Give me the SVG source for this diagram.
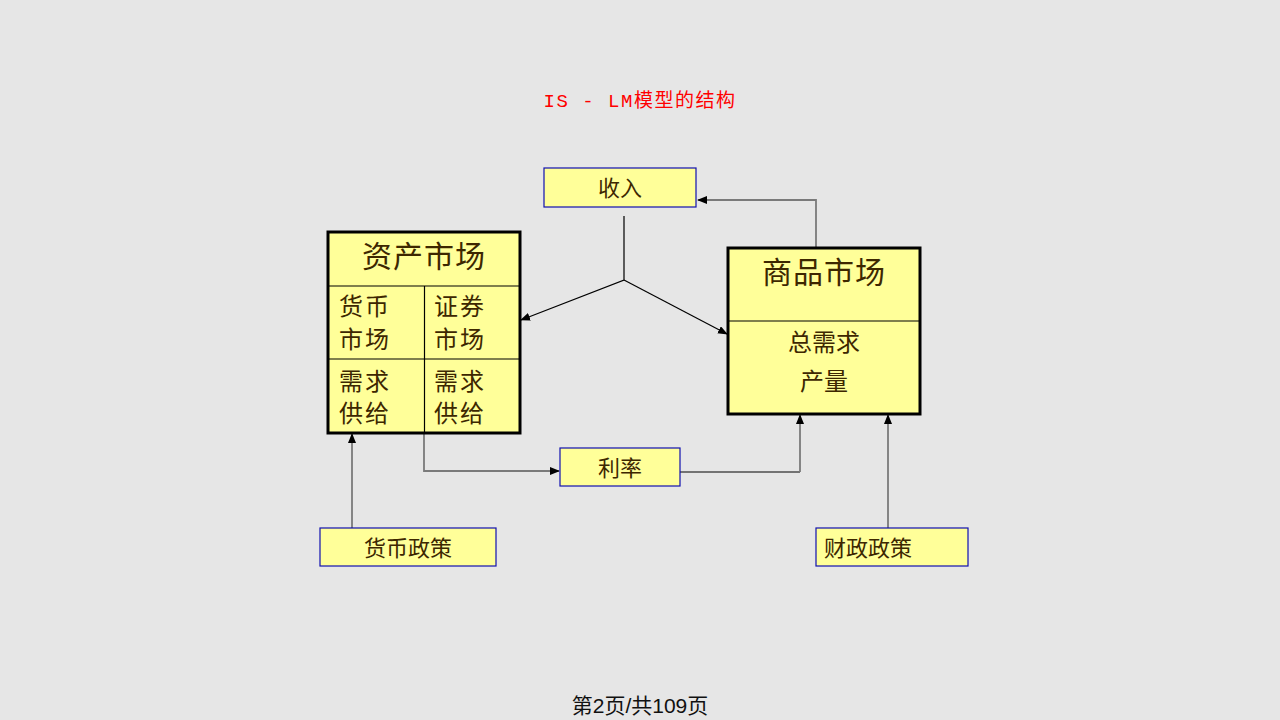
<svg xmlns="http://www.w3.org/2000/svg" width="1280" height="720" viewBox="0 0 1280 720">
<defs>
<marker id="ah" markerWidth="10" markerHeight="8" refX="9" refY="4" orient="auto" markerUnits="userSpaceOnUse"><path d="M0,0 L10,4 L0,8 Z" fill="#000"/></marker>
<style>
.sm{fill:#ffff99;stroke:#1010b0;stroke-width:1.2}
.big{fill:#ffff99;stroke:#000;stroke-width:3}
.div{stroke:#000;stroke-width:1.2;fill:none}
.t{font-family:"Noto Sans CJK SC","Liberation Sans",sans-serif;fill:#3d2700}
.c{stroke:#7a7a7a;stroke-width:1.8;fill:none}
.k{stroke:#000;stroke-width:1.2;fill:none}
</style>
</defs>
<rect width="1280" height="720" fill="#e6e6e6"/>
<text x="640" y="107" text-anchor="middle" font-family="'Liberation Mono','Noto Sans CJK SC',monospace" font-size="19" letter-spacing="1.5" fill="#ff0000">IS - LM模型的结构</text>

<g id="connectors">
<path class="c" d="M816,248 V200 H698" marker-end="url(#ah)"/>
<path class="k" d="M624,216 V280 L521,320" marker-end="url(#ah)"/>
<path class="k" d="M624,280 L727,334" marker-end="url(#ah)"/>
<path class="c" d="M424,433 V471 H559" marker-end="url(#ah)"/>
<path class="k" d="M680,472 H800"/>
<path class="c" d="M800,472 V415" marker-end="url(#ah)"/>
<path class="c" d="M352,528 V434" marker-end="url(#ah)"/>
<path class="c" d="M888,528 V415" marker-end="url(#ah)"/>
</g>

<g id="income">
<rect class="sm" x="544" y="168" width="152" height="39"/>
<text class="t" x="620" y="196" text-anchor="middle" font-size="22">收入</text>
</g>

<g id="asset-market">
<rect class="big" x="328" y="232" width="192" height="201"/>
<line class="div" x1="328" y1="286" x2="520" y2="286"/>
<line class="div" x1="328" y1="359" x2="520" y2="359"/>
<line class="div" x1="424.5" y1="286" x2="424.5" y2="433"/>
<text class="t" x="424" y="267" text-anchor="middle" font-size="30" letter-spacing="1">资产市场</text>
<text class="t" x="339" y="315" font-size="24" letter-spacing="2">货币</text>
<text class="t" x="339" y="348" font-size="24" letter-spacing="2">市场</text>
<text class="t" x="434" y="315" font-size="24" letter-spacing="2">证券</text>
<text class="t" x="434" y="348" font-size="24" letter-spacing="2">市场</text>
<text class="t" x="339" y="390" font-size="24" letter-spacing="2">需求</text>
<text class="t" x="339" y="422" font-size="24" letter-spacing="2">供给</text>
<text class="t" x="434" y="390" font-size="24" letter-spacing="2">需求</text>
<text class="t" x="434" y="422" font-size="24" letter-spacing="2">供给</text>
</g>

<g id="goods-market">
<rect class="big" x="728" y="248" width="192" height="166"/>
<line class="div" x1="728" y1="321" x2="920" y2="321"/>
<text class="t" x="824" y="283" text-anchor="middle" font-size="30" letter-spacing="1">商品市场</text>
<text class="t" x="824" y="351" text-anchor="middle" font-size="24">总需求</text>
<text class="t" x="824" y="390" text-anchor="middle" font-size="24">产量</text>
</g>

<g id="interest">
<rect class="sm" x="560" y="448" width="120" height="38"/>
<text class="t" x="620" y="476" text-anchor="middle" font-size="22">利率</text>
</g>

<g id="monetary">
<rect class="sm" x="320" y="528" width="176" height="38"/>
<text class="t" x="408" y="556" text-anchor="middle" font-size="22">货币政策</text>
</g>

<g id="fiscal">
<rect class="sm" x="816" y="528" width="152" height="38"/>
<text class="t" x="824" y="556" font-size="22">财政政策</text>
</g>

<text x="640" y="713" text-anchor="middle" font-family="'Liberation Sans','Noto Sans CJK SC',sans-serif" font-size="21" fill="#111">第2页/共109页</text>
</svg>
